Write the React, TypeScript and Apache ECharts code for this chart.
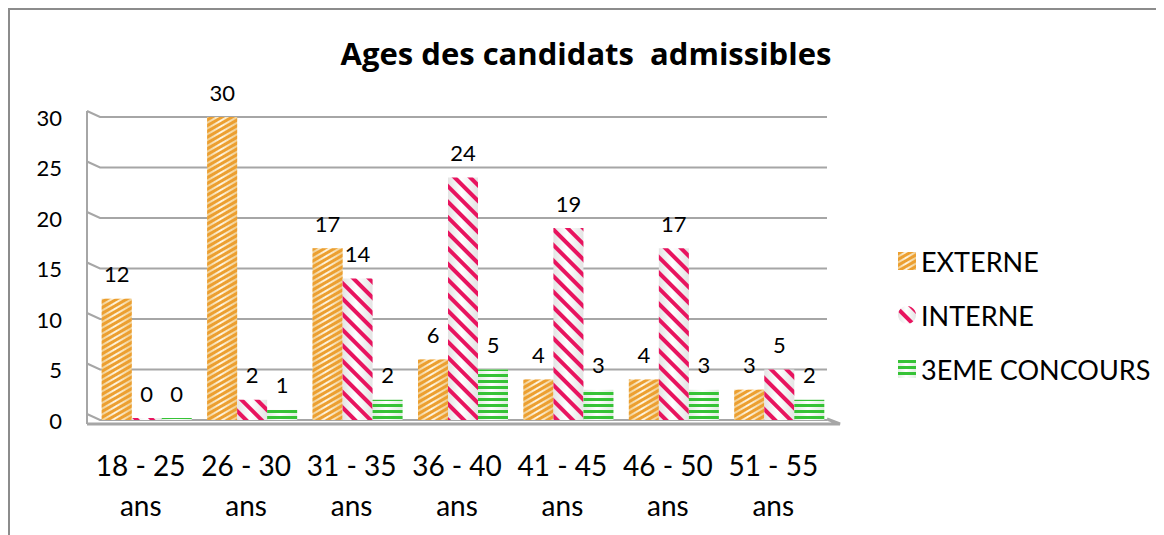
import React, { useEffect, useRef } from 'react';
import * as echarts from 'echarts';

const categories = ['18 - 25\nans', '26 - 30\nans', '31 - 35\nans', '36 - 40\nans', '41 - 45\nans', '46 - 50\nans', '51 - 55\nans'];
const seriesNames = ['EXTERNE', 'INTERNE', '3EME CONCOURS'];
const externe = [12, 30, 17, 6, 4, 4, 3];
const interne = [0, 2, 14, 24, 19, 17, 5];
const concours3 = [0, 1, 2, 5, 3, 3, 2];
const yTicks = [0, 5, 10, 15, 20, 25, 30];
const titleText = 'Ages des candidats  admissibles';

const FONT = 'Lato, "Open Sans", sans-serif';
const TITLE_FONT = '"Open Sans", Lato, sans-serif';
const GRID = { left: 86, top: 109, width: 738, height: 303 };

export default function App() {
  const ref = useRef<HTMLDivElement>(null);
  useEffect(() => {
    const chart = echarts.init(ref.current!, null, { renderer: 'svg' });
    const cyl = (edge: string, mid: string) =>
      new echarts.graphic.LinearGradient(0, 0, 1, 0, [
        { offset: 0, color: edge },
        { offset: 0.45, color: mid },
        { offset: 1, color: edge },
      ]);
    const label = { show: true, position: 'top', distance: 14, fontSize: 22, fontFamily: FONT, color: '#000' };
    chart.setOption({
      animation: false,
      title: {
        text: titleText,
        left: 'center',
        top: 27,
        padding: [0, 0, 0, 11],
        textStyle: { fontFamily: TITLE_FONT, fontWeight: 'bold', fontSize: 31, lineHeight: 36, color: '#000' },
      },
      legend: {
        orient: 'vertical',
        left: 885,
        top: 233,
        itemWidth: 18,
        itemHeight: 18,
        itemGap: 24,
        textStyle: { fontFamily: FONT, fontSize: 27, lineHeight: 30, color: '#000' },
        data: [
          { name: seriesNames[0], icon: 'rect' },
          { name: seriesNames[1], icon: 'circle' },
          { name: seriesNames[2], icon: 'rect' },
        ],
      },
      grid: GRID,
      xAxis: {
        type: 'category',
        data: categories,
        axisLine: { show: false },
        axisTick: { show: false },
        axisLabel: { interval: 0, fontFamily: FONT, fontSize: 28, lineHeight: 40, margin: 25, color: '#000', padding: [0, 12, 0, 0] },
      },
      yAxis: {
        type: 'value',
        min: 0,
        max: 30,
        interval: 5,
        axisLine: { show: false },
        axisTick: { show: false },
        splitLine: { show: false },
        axisLabel: { fontFamily: FONT, fontSize: 22, color: '#000', margin: 32 },
      },
      series: [
        {
          name: seriesNames[0],
          type: 'bar',
          data: externe,
          barWidth: 30,
          barGap: '0%',
          barMinHeight: 2,
          label,
          itemStyle: {
            color: cyl('#F0CC8C', '#FFF6E2'),
            decal: { symbol: 'rect', symbolSize: 1, color: '#EC9F30', dashArrayX: [1, 0], dashArrayY: [3, 2], rotation: -Math.PI / 6 },
          },
        },
        {
          name: seriesNames[1],
          type: 'bar',
          data: interne,
          barWidth: 30,
          barMinHeight: 2,
          label,
          itemStyle: {
            color: cyl('#E4E4E4', '#FFFFFF'),
            decal: { symbol: 'rect', symbolSize: 1, color: '#E8145F', dashArrayX: [1, 0], dashArrayY: [4, 7], rotation: Math.PI / 4 },
          },
        },
        {
          name: seriesNames[2],
          type: 'bar',
          data: concours3,
          barWidth: 30,
          barMinHeight: 2,
          label,
          itemStyle: {
            color: cyl('#E0EEE0', '#FFFFFF'),
            decal: { symbol: 'rect', symbolSize: 1, color: '#36C336', dashArrayX: [1, 0], dashArrayY: [3, 3], rotation: 0 },
          },
        },
      ],
    });

    const yp = (v: number) => chart.convertToPixel({ yAxisIndex: 0 }, v) as number;
    const wallX = GRID.left - 7;
    const backX = GRID.left + 6;
    const backRight = GRID.left + GRID.width - 5;
    const frontRight = GRID.left + GRID.width + 8;
    const y0 = yp(0);
    const yTop = yp(yTicks[yTicks.length - 1]);
    const stroke = '#A6A6A6';
    const elements: any[] = [
      { type: 'line', shape: { x1: 0, y1: 1, x2: 1156, y2: 1 }, style: { stroke: '#8C8C8C', lineWidth: 2 }, silent: true },
      { type: 'line', shape: { x1: 1, y1: 0, x2: 1, y2: 527 }, style: { stroke: '#8C8C8C', lineWidth: 2 }, silent: true },
      { type: 'line', shape: { x1: wallX, y1: yTop - 6, x2: wallX, y2: y0 + 4 }, style: { stroke, lineWidth: 2 }, silent: true },
      { type: 'polyline', shape: { points: [[wallX, y0 + 4], [frontRight, y0 + 4], [backRight, y0 - 1]] }, style: { stroke, lineWidth: 3, fill: null }, silent: true },
    ];
    yTicks.forEach((v) => {
      const y = yp(v);
      elements.push({
        type: 'polyline',
        shape: { points: [[wallX, y - 6], [backX, y], [backRight, y]] },
        style: { stroke, lineWidth: 2, fill: null },
        silent: true,
      });
    });
    chart.setOption({ graphic: { elements: elements.map((e) => ({ ...e, z: 0 })) } });

    return () => chart.dispose();
  }, []);
  return <div ref={ref} style={{ width: 1156, height: 527 }} />;
}
